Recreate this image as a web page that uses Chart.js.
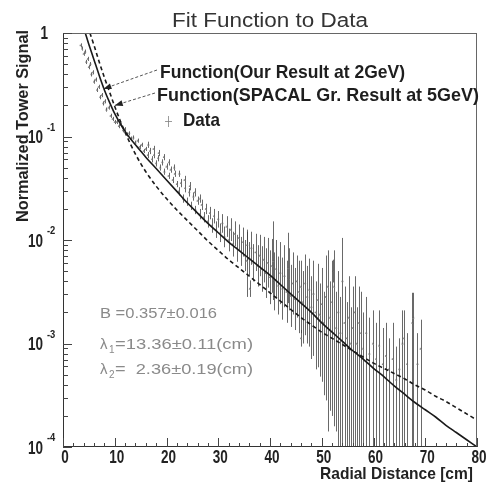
<!DOCTYPE html>
<html><head><meta charset="utf-8">
<script src="https://cdn.jsdelivr.net/npm/chart.js@4.4.1/dist/chart.umd.min.js"></script>
<style>html,body{margin:0;padding:0;background:#fff;}canvas{display:block;}</style>
</head><body>
<canvas id="c" width="487" height="483"></canvas>
<script>
// ---- axis ticks ----
const xTicks = [0,10,20,30,40,50,60,70,80];
const yDecades = [0,-1,-2,-3,-4];
const yLabels = ["1","10","10","10","10"];
const ySup = ["","-1","-2","-3","-4"];

// ---- fitted function, our result at 2 GeV (solid): radius [cm], log10(signal) ----
const solidR   = [4.3,5,6,7,8,9,10,11,12,13,14,15,16,18,20,22,24,26,28,30,32,34,36,38,40,42,44,46,48,50,52,54,56,58,60,62,64,66,68,70,72,74,76,78,80];
const solidLog = [0,-0.11,-0.26,-0.41,-0.55,-0.67,-0.78,-0.87,-0.95,-1.02,-1.08,-1.14,-1.20,-1.31,-1.42,-1.53,-1.64,-1.74,-1.84,-1.93,-2.02,-2.10,-2.18,-2.26,-2.34,-2.43,-2.52,-2.61,-2.70,-2.80,-2.89,-2.98,-3.07,-3.15,-3.24,-3.32,-3.41,-3.49,-3.57,-3.64,-3.71,-3.79,-3.86,-3.93,-4.0];

// ---- SPACAL group result at 5 GeV (dashed) ----
const dashR   = [5.2,6,7,8,9,10,11,12,13,14,15,16,18,20,22,24,26,28,30,32,34,36,38,40,42,44,46,48,50,52,54,56,58,60,62,64,66,68,70,72,74,76,78,80];
const dashLog = [0,-0.12,-0.28,-0.43,-0.57,-0.71,-0.84,-0.96,-1.07,-1.17,-1.26,-1.34,-1.48,-1.60,-1.71,-1.81,-1.91,-2.01,-2.10,-2.19,-2.27,-2.35,-2.43,-2.51,-2.59,-2.67,-2.75,-2.82,-2.89,-2.95,-3.01,-3.07,-3.13,-3.19,-3.24,-3.29,-3.34,-3.40,-3.45,-3.51,-3.56,-3.62,-3.68,-3.74];

// ---- data: radius [cm], log10(signal), error up / down [decades] ----
const dataR = [
 3.4,3.7,4.0,4.3,4.5,4.8,5.0,5.3,5.5,5.8,6.0,6.3,6.6,6.9,7.2,7.5,7.8,8.1,8.4,8.8,9.2,9.6,10.0,
 10.4,10.8,11.2,11.6,12.0,12.4,12.8,13.2,13.6,14.0,14.4,14.8,15.2,15.6,16.0,16.4,16.8,17.2,17.6,18.0,18.4,18.8,19.2,19.6,20.0,20.4,20.8,21.2,21.6,22.0,
 16.5,17.5,18.5,19.5,20.5,21.5,22.5,23.5,24.5,25.5,26.5,
 22.4,22.8,23.2,23.6,24.0,24.4,24.8,25.2,25.6,26.0,26.4,26.8,27.2,27.6,28.0,28.4,28.8,29.2,29.6,30.0,30.4,30.8,31.2,31.6,32.0,32.4,32.8,33.2,33.6,34.0,34.4,34.8,35.2,35.6,36.0,36.4,36.8,37.2,37.6,38.0,38.4,38.8,39.2,39.6,40.0,40.4,40.8,41.2,41.6,42.0,42.4,42.8,43.2,43.6,44.0,44.4,44.8,
 35.5,40.6,43.5,36.1,46.0,52.2,
 45.2,45.6,46.0,46.4,46.8,47.2,47.6,48.0,48.4,48.8,49.2,49.6,50.0,50.4,50.8,51.2,51.6,52.0,52.4,52.8,53.2,53.6,54.0,54.4,54.8,55.2,55.6,56.0,56.4,56.8,57.2,57.6,58.0,58.6,59.2,59.9,60.5,61.1,61.8,62.4,63.0,63.7,64.4,65.0,65.6,65.9,66.5,67.5,67.7,68.5,69.1
];
const dataLog = [
 -0.12,-0.15,-0.20,-0.18,-0.28,-0.25,-0.33,-0.30,-0.40,-0.38,-0.47,-0.45,-0.55,-0.52,-0.62,-0.60,-0.68,-0.66,-0.74,-0.72,-0.80,-0.83,-0.86,
 -0.86,-0.90,-0.89,-0.94,-0.93,-0.98,-0.97,-1.02,-1.01,-1.06,-1.04,-1.10,-1.08,-1.14,-1.12,-1.18,-1.14,-1.22,-1.18,-1.26,-1.21,-1.30,-1.25,-1.34,-1.29,-1.38,-1.32,-1.42,-1.36,-1.46,
 -1.08,-1.12,-1.16,-1.20,-1.25,-1.30,-1.36,-1.42,-1.48,-1.54,-1.60,
 -1.53,-1.45,-1.60,-1.50,-1.63,-1.54,-1.67,-1.58,-1.71,-1.62,-1.75,-1.66,-1.78,-1.70,-1.82,-1.74,-1.86,-1.77,-1.90,-1.80,-1.93,-1.84,-1.97,-1.87,-2.00,-1.90,-2.04,-1.94,-2.08,-1.98,-2.11,-2.02,-2.15,-2.05,-2.18,-2.08,-2.22,-2.12,-2.25,-2.15,-2.28,-2.19,-2.32,-2.22,-2.36,-2.25,-2.40,-2.28,-2.44,-2.32,-2.47,-2.35,-2.50,-2.38,-2.54,-2.42,-2.57,
 -2.20,-2.20,-2.27,-2.47,-2.95,-2.30,
 -2.40,-2.50,-2.45,-2.60,-2.42,-2.55,-2.48,-2.65,-2.52,-2.70,-2.58,-2.72,-2.62,-2.80,-2.55,-2.45,-2.75,-2.60,-2.45,-2.85,-2.70,-2.90,-2.40,-2.80,-2.95,-2.75,-3.00,-2.85,-2.70,-3.00,-2.80,-2.90,-3.05,-2.90,-3.10,-3.00,-3.15,-3.02,-3.20,-3.12,-3.25,-3.15,-3.35,-3.25,-3.00,-2.95,-3.20,-2.80,-2.75,-3.20,-3.05
];
const dataErrUp = [
 0.02,0.02,0.02,0.02,0.02,0.02,0.02,0.02,0.02,0.02,0.02,0.02,0.02,0.02,0.02,0.02,0.02,0.02,0.02,0.02,0.02,0.02,0.02,
 0.02,0.02,0.02,0.02,0.02,0.02,0.02,0.02,0.02,0.02,0.02,0.02,0.02,0.02,0.02,0.03,0.03,0.03,0.03,0.03,0.03,0.03,0.03,0.03,0.03,0.03,0.03,0.03,0.03,0.03,
 0.03,0.03,0.03,0.03,0.03,0.03,0.03,0.04,0.04,0.04,0.04,
 0.04,0.04,0.04,0.04,0.04,0.04,0.04,0.04,0.04,0.04,0.05,0.05,0.05,0.05,0.06,0.06,0.07,0.07,0.08,0.08,0.09,0.09,0.10,0.10,0.11,0.11,0.12,0.12,0.13,0.13,0.14,0.14,0.15,0.15,0.16,0.16,0.18,0.18,0.20,0.20,0.22,0.22,0.24,0.24,0.26,0.26,0.28,0.28,0.28,0.30,0.30,0.30,0.30,0.30,0.30,0.30,0.30,
 0.28,0.38,0.34,0.08,0.08,0.11,
 0.25,0.30,0.25,0.30,0.28,0.30,0.30,0.30,0.32,0.30,0.35,0.30,0.35,0.30,0.40,0.35,0.35,0.40,0.35,0.35,0.40,0.35,0.42,0.35,0.35,0.40,0.35,0.40,0.35,0.35,0.35,0.40,0.35,0.35,0.35,0.32,0.35,0.34,0.35,0.32,0.30,0.35,0.32,0.30,0.32,0.27,0.30,0.29,0.24,0.30,0.28
];
const dataErrDn = [
 0.02,0.02,0.02,0.02,0.02,0.02,0.02,0.02,0.02,0.02,0.02,0.02,0.02,0.02,0.02,0.02,0.02,0.02,0.02,0.02,0.02,0.02,0.02,
 0.02,0.02,0.02,0.02,0.02,0.02,0.02,0.02,0.02,0.02,0.02,0.02,0.02,0.02,0.02,0.03,0.03,0.03,0.03,0.03,0.03,0.03,0.03,0.03,0.03,0.03,0.03,0.03,0.03,0.03,
 0.03,0.03,0.03,0.03,0.03,0.03,0.03,0.04,0.04,0.04,0.04,
 0.04,0.04,0.04,0.04,0.04,0.04,0.04,0.04,0.04,0.04,0.05,0.05,0.05,0.05,0.06,0.06,0.07,0.07,0.08,0.08,0.09,0.09,0.10,0.10,0.11,0.11,0.12,0.12,0.13,0.13,0.14,0.14,0.15,0.15,0.16,0.16,0.18,0.18,0.20,0.20,0.22,0.22,0.24,0.24,0.26,0.26,0.28,0.28,0.28,0.30,0.30,0.30,0.30,0.30,0.30,0.30,0.30,
 0.35,0.38,0.34,0.08,0.08,0.11,
 0.35,0.40,0.45,0.40,0.50,0.45,0.55,0.50,0.60,0.55,0.65,0.60,0.75,0.70,1.00,1.40,0.90,1.10,1.35,1.00,1.30,1.10,1.60,1.20,1.05,1.25,1.00,1.15,1.30,1.00,1.20,1.10,0.95,1.10,0.90,1.00,0.85,0.98,0.80,0.88,0.75,0.85,0.65,0.75,1.00,1.05,0.80,1.20,1.25,0.80,0.95
];

// ---- annotation anchors (data coords for arrow tips) ----
const arrowTipR = [7.8, 10.0];
const arrowTipLog = [-0.54, -0.70];

const P = v => Math.pow(10, v);
const solidPts = solidR.map((r,i)=>({x:r, y:P(solidLog[i])}));
const dashPts  = dashR.map((r,i)=>({x:r, y:P(dashLog[i])}));
const dataPts  = dataR.map((r,i)=>({x:r, y:P(dataLog[i])}));

const FONT = '"Liberation Sans", Arial, Helvetica, sans-serif';

function fitText(ctx, txt, x, y, w, align){
  const m = ctx.measureText(txt).width;
  const s = w/m;
  ctx.save(); ctx.translate(x,y); ctx.scale(s,1); ctx.textAlign = align; ctx.fillText(txt,0,0); ctx.restore();
}
function sxText(ctx, txt, x, y, sx, align){
  ctx.save(); ctx.translate(x,y); ctx.scale(sx,1); ctx.textAlign = align; ctx.fillText(txt,0,0); ctx.restore();
}

const decor = {
  id:'decor',
  beforeDatasetsDraw(chart){
    const {ctx, chartArea:a, scales:{x,y}} = chart;
    ctx.save();
    ctx.beginPath(); ctx.rect(a.left, a.top, a.right-a.left, a.bottom-a.top); ctx.clip();
    ctx.lineWidth = 1;
    for (let i=0;i<dataR.length;i++){
      const px = Math.round(x.getPixelForValue(dataR[i]))+0.5;
      const top = y.getPixelForValue(P(dataLog[i]+dataErrUp[i]));
      const lo = Math.max(P(dataLog[i]-dataErrDn[i]), 1e-4);
      const bot = y.getPixelForValue(lo);
      const py = y.getPixelForValue(P(dataLog[i]));
      if (bot-top > 4){
        ctx.strokeStyle = 'rgba(55,55,55,0.75)';
        ctx.beginPath(); ctx.moveTo(px, top); ctx.lineTo(px, bot); ctx.stroke();
      }
      const hl = x.getPixelForValue(dataR[i]-0.2), hr = x.getPixelForValue(dataR[i]+0.2);
      ctx.strokeStyle = 'rgba(160,160,160,0.55)';
      ctx.beginPath(); ctx.moveTo(hl, Math.round(py)+0.5); ctx.lineTo(hr, Math.round(py)+0.5); ctx.stroke();
    }
    ctx.restore();
  },
  afterDraw(chart){
    const {ctx, chartArea:a, scales:{x,y}} = chart;
    ctx.save();
    // frame
    ctx.strokeStyle = '#666'; ctx.lineWidth = 1;
    ctx.strokeRect(a.left+0.5, a.top+0.5, a.right-a.left-1, a.bottom-a.top-1);
    ctx.strokeStyle = '#333';
    ctx.beginPath(); ctx.moveTo(a.left+0.5,a.top); ctx.lineTo(a.left+0.5,a.bottom);
    ctx.moveTo(a.left,a.bottom-0.5); ctx.lineTo(a.right,a.bottom-0.5); ctx.stroke();
    // ticks
    ctx.strokeStyle = '#444';
    ctx.beginPath();
    for (const d of yDecades){
      const py = Math.round(y.getPixelForValue(P(d)))+0.5;
      ctx.moveTo(a.left, py); ctx.lineTo(a.left+9, py);
      if (d>-4){
        for (let m=2;m<=9;m++){
          const pm = Math.round(y.getPixelForValue(m*P(d-1)))+0.5;
          ctx.moveTo(a.left, pm); ctx.lineTo(a.left+5, pm);
        }
      }
    }
    for (const t of xTicks){
      const px = Math.round(x.getPixelForValue(t))+0.5;
      ctx.moveTo(px, a.bottom); ctx.lineTo(px, a.bottom-9);
    }
    for (let t=0;t<80;t+=2){
      if (t%10===0) continue;
      const px = Math.round(x.getPixelForValue(t))+0.5;
      ctx.moveTo(px, a.bottom); ctx.lineTo(px, a.bottom-4);
    }
    ctx.stroke();
    // x tick labels (tall, condensed)
    ctx.fillStyle = '#222';
    ctx.font = 'bold 18px '+FONT;
    ctx.textBaseline = 'middle';
    for (const t of xTicks){
      sxText(ctx, String(t), x.getPixelForValue(t)+2, a.bottom+11, 0.75, 'center');
    }
    // y tick labels
    yDecades.forEach((d,i)=>{
      const py = y.getPixelForValue(P(d));
      ctx.font = 'bold 18px '+FONT; ctx.textBaseline='middle';
      if (d===0){ sxText(ctx, yLabels[i], a.left-15, py+1, 0.75, 'right'); }
      else {
        sxText(ctx, yLabels[i], a.left-20, py+2, 0.75, 'right');
        ctx.font = 'bold 11px '+FONT;
        sxText(ctx, ySup[i], a.left-16, py-9, 0.85, 'left');
      }
    });
    // axis titles
    ctx.font = 'bold 17px '+FONT; ctx.fillStyle='#222'; ctx.textBaseline='alphabetic';
    fitText(ctx, 'Radial Distance [cm]', 473, 479, 153, 'right');
    ctx.save();
    ctx.translate(28, 30); ctx.rotate(-Math.PI/2);
    fitText(ctx, 'Normalized Tower Signal', 0, 0, 192, 'right');
    ctx.restore();
    // title
    ctx.font = '20px '+FONT; ctx.fillStyle='#333'; ctx.textBaseline='middle';
    fitText(ctx, 'Fit Function to Data', 270, 21, 196, 'center');
    // legend text
    ctx.font = 'bold 19px '+FONT; ctx.fillStyle='#1e1e1e'; ctx.textBaseline='middle';
    fitText(ctx, 'Function(Our Result at 2GeV)', 160, 73, 245, 'left');
    fitText(ctx, 'Function(SPACAL Gr. Result at 5GeV)', 157, 96, 322, 'left');
    fitText(ctx, 'Data', 183, 121, 37, 'left');
    // data legend marker
    ctx.strokeStyle='rgba(130,130,130,0.8)'; ctx.lineWidth=1; ctx.beginPath();
    ctx.moveTo(168.5,116); ctx.lineTo(168.5,127); ctx.moveTo(165,121.5); ctx.lineTo(172,121.5); ctx.stroke();
    // arrows
    const tails = [[157,70],[155,93]];
    for (let k=0;k<2;k++){
      const tx = x.getPixelForValue(arrowTipR[k]), ty = y.getPixelForValue(P(arrowTipLog[k]));
      const [sx,sy] = tails[k];
      ctx.strokeStyle='#555'; ctx.lineWidth=1; ctx.setLineDash([3,2]);
      ctx.beginPath(); ctx.moveTo(sx,sy); ctx.lineTo(tx,ty); ctx.stroke();
      ctx.setLineDash([]);
      const ang = Math.atan2(ty-sy, tx-sx), L=8, W=3;
      ctx.fillStyle='#222'; ctx.beginPath();
      ctx.moveTo(tx,ty);
      ctx.lineTo(tx-L*Math.cos(ang)+W*Math.sin(ang), ty-L*Math.sin(ang)-W*Math.cos(ang));
      ctx.lineTo(tx-L*Math.cos(ang)-W*Math.sin(ang), ty-L*Math.sin(ang)+W*Math.cos(ang));
      ctx.closePath(); ctx.fill();
    }
    // fit parameters
    ctx.fillStyle='#8a8a8a'; ctx.font='15px '+FONT; ctx.textBaseline='middle';
    fitText(ctx, 'B =0.357\u00b10.016', 100, 314, 117, 'left');
    const drawLam = (sub, rest, yy)=>{
      ctx.font='15px '+FONT; ctx.textAlign='left'; ctx.fillText('\u03bb', 100, yy);
      ctx.font='10px '+FONT; ctx.fillText(sub, 109, yy+5);
      ctx.font='15px '+FONT; fitText(ctx, rest, 115, yy, 138, 'left');
    };
    drawLam('1','=13.36\u00b10.11(cm)', 345);
    drawLam('2','=  2.36\u00b10.19(cm)', 370);
    ctx.restore();
  }
};

new Chart(document.getElementById('c'), {
  type:'scatter',
  data:{datasets:[
    {label:'data', data:dataPts, pointStyle:'rect', pointRadius:1.2, pointBackgroundColor:'rgba(100,100,100,0.65)', pointBorderWidth:0, showLine:false, order:3},
    {label:'solid', data:solidPts, showLine:true, borderColor:'#1a1a1a', borderWidth:1.6, pointRadius:0, cubicInterpolationMode:'monotone', order:1},
    {label:'dashed', data:dashPts, showLine:true, borderColor:'#1a1a1a', borderWidth:1.6, borderDash:[4,3], pointRadius:0, cubicInterpolationMode:'monotone', order:2}
  ]},
  options:{
    responsive:false, animation:false, devicePixelRatio:1,
    layout:{padding:{left:63, top:33, right:10, bottom:36}},
    scales:{
      x:{type:'linear', min:0, max:80, display:false},
      y:{type:'logarithmic', min:1e-4, max:1, display:false}
    },
    plugins:{legend:{display:false}, tooltip:{enabled:false}}
  },
  plugins:[decor]
});
</script>
</body></html>
